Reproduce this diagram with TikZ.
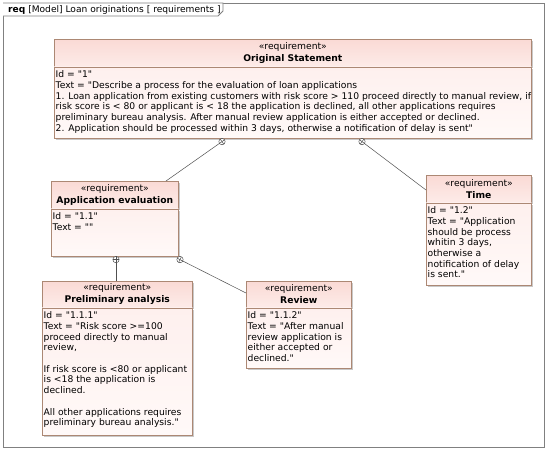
\documentclass[tikz,border=0pt]{standalone}
\usepackage{fontspec}
\setmainfont{DejaVu Sans}[Ligatures=TeXOff]
\usetikzlibrary{calc,shadows}
\definecolor{reqborder}{RGB}{172,136,116}
\definecolor{reqhead}{RGB}{250,218,213}
\definecolor{reqheadlow}{RGB}{253,235,232}
\definecolor{reqbody}{RGB}{254,240,238}
\definecolor{reqbodylow}{RGB}{255,249,248}
\definecolor{framegray}{RGB}{128,128,128}
\definecolor{linkgray}{RGB}{80,80,80}
\tikzset{
  reqshadow/.style={drop shadow={shadow xshift=1.6pt, shadow yshift=-1.6pt, fill=black!35, opacity=0.6}},
  reqhead/.style={draw=reqborder, line width=0.6pt, top color=reqhead, bottom color=reqheadlow,
    anchor=north west, align=center, inner sep=0pt, font=\fontsize{9.2}{12}\selectfont, reqshadow},
  reqbody/.style={draw=reqborder, line width=0.6pt, top color=reqbody, bottom color=reqbodylow,
    anchor=north west, inner sep=0pt, reqshadow},
  reqtext/.style={anchor=north west, align=left, inner xsep=1.5pt, inner ysep=4pt,
    font=\fontsize{9.2}{10.7}\selectfont},
  link/.style={draw=linkgray, line width=0.5pt}
}

\begin{document}
\begin{tikzpicture}[x=1pt, y=-1pt]
    \useasboundingbox (0,0) rectangle (550,451);
    \fill[white] (0,0) rectangle (550,451);
    \draw[framegray, line width=0.9pt] (3,3) rectangle (544,447);
    \draw[framegray, line width=0.9pt, fill=white] (3,3) -- (223,3) -- (223,11) -- (218,16) -- (3,16);
    \node[anchor=west, inner sep=0pt, font=\fontsize{9.1}{10}\selectfont] (title) at (8,9.5)
        {\textbf{req} [Model] Loan originations [ requirements ]};

    \node[reqhead, minimum width=477pt, minimum height=27pt] (orig) at (54,39)
        {«requirement»\\\textbf{Original Statement}};
    \node[reqbody, minimum width=477pt, minimum height=71pt] (origb) at (orig.south west) {};
    \node[reqtext] (origt) at (origb.north west)
        {Id = "1"\\
         Text = "Describe a process for the evaluation of loan applications\\
         1. Loan application from existing customers with risk score > 110 proceed directly to manual review, if\\
         risk score is < 80 or applicant is < 18 the application is declined, all other applications requires\\
         preliminary bureau analysis. After manual review application is either accepted or declined.\\
         2. Application should be processed within 3 days, otherwise a notification of delay is sent"};

    \node[reqhead, minimum width=127pt, minimum height=27pt] (appe) at (51,181)
        {«requirement»\\\textbf{Application evaluation}};
    \node[reqbody, minimum width=127pt, minimum height=47pt] (appeb) at (appe.south west) {};
    \node[reqtext] (appet) at (appeb.north west) {Id = "1.1"\\Text = ""};

    \node[reqhead, minimum width=105pt, minimum height=27pt] (time) at (426,175)
        {«requirement»\\\textbf{Time}};
    \node[reqbody, minimum width=105pt, minimum height=82pt] (timeb) at (time.south west) {};
    \node[reqtext] (timet) at (timeb.north west)
        {Id = "1.2"\\Text = "Application\\should be process\\whitin 3 days,\\otherwise a\\notification of delay\\is sent."};

    \node[reqhead, minimum width=150pt, minimum height=26pt] (prelim) at (42,281)
        {«requirement»\\\textbf{Preliminary analysis}};
    \node[reqbody, minimum width=150pt, minimum height=127pt] (prelimb) at (prelim.south west) {};
    \node[reqtext] (prelimt) at (prelimb.north west)
        {Id = "1.1.1"\\Text = "Risk score >=100\\proceed directly to manual\\review,\\\mbox{}\\
         If risk score is <80 or applicant\\is <18 the application is\\declined.\\\mbox{}\\
         All other applications requires\\preliminary bureau analysis."};

    \node[reqhead, minimum width=105pt, minimum height=26pt] (rev) at (246,281)
        {«requirement»\\\textbf{Review}};
    \node[reqbody, minimum width=105pt, minimum height=60pt] (revb) at (rev.south west) {};
    \node[reqtext] (revt) at (revb.north west)
        {Id = "1.1.2"\\Text = "After manual\\review application is\\either accepted or\\declined."};

    \coordinate (m1) at ([xshift=168pt, yshift=-3.4pt]origb.south west);
    \coordinate (e1) at ([xshift=115pt]appe.north west);
    \coordinate (m2) at ([xshift=308pt, yshift=-3.4pt]origb.south west);
    \coordinate (e2) at ([yshift=-15pt]time.north west);
    \coordinate (m3) at ([xshift=65pt, yshift=-3.4pt]appeb.south west);
    \coordinate (e3) at (m3 |- prelim.north);
    \coordinate (m4) at ([xshift=129pt, yshift=-3.4pt]appeb.south west);
    \coordinate (e4) at ([yshift=-12pt]rev.north west);

    \foreach \m/\e in {m1/e1, m2/e2, m3/e3, m4/e4} {
        \draw[link, fill=white] (\m) circle (3.2pt);
        \draw[link] ($(\m)!-3.2pt!(\e)$) -- (\e);
        \draw[link] ($(\m)!3.2pt!90:(\e)$) -- ($(\m)!3.2pt!-90:(\e)$);
    }
\end{tikzpicture}
\end{document}
